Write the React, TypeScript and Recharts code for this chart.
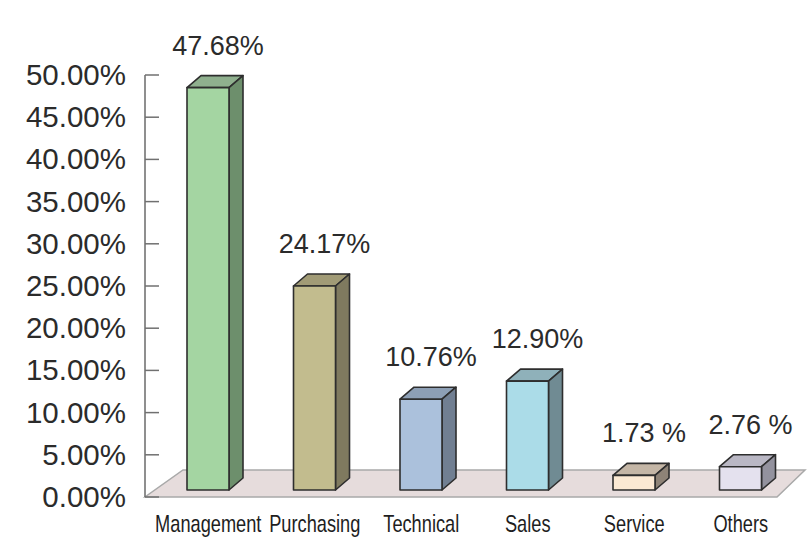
import React from 'react';
import { BarChart, Bar, XAxis, YAxis, ReferenceLine, LabelList, Cell } from 'recharts';

const categories = ['Management', 'Purchasing', 'Technical', 'Sales', 'Service', 'Others'];
const shares = [47.68, 24.17, 10.76, 12.9, 1.73, 2.76];
const shareLabels = ['47.68%', '24.17%', '10.76%', '12.90%', '1.73 %', '2.76 %'];
const yTicks = [0, 5, 10, 15, 20, 25, 30, 35, 40, 45, 50];

// front / side / top colour for each bar
const fronts = ['#a4d5a2', '#c2bc8e', '#abc1dc', '#abdce8', '#fbe9d3', '#e4e1ee'];
const sides = ['#6d8f6c', '#7f7a5f', '#717f92', '#708b93', '#8e8377', '#93929e'];
const tops = ['#8fb08e', '#a19b76', '#8d9fb5', '#8fb1ba', '#c4b6a6', '#b9b7c4'];

const data = categories.map((name, i) => ({ name, value: shares[i], label: shareLabels[i] }));

const DX = 14; // depth offset of the 3d box
const DY = 12;
const LIFT = 7; // bars stand a little back on the floor

const Box3D = (props: any) => {
  const { x, y, width, height, index } = props;
  const fx = x;
  const fy = y - LIFT;
  const stroke = '#2e2e2e';
  return (
    <g strokeWidth={1.6} stroke={stroke} strokeLinejoin="round">
      <polygon
        points={`${fx},${fy} ${fx + DX},${fy - DY} ${fx + width + DX},${fy - DY} ${fx + width},${fy}`}
        fill={tops[index]}
      />
      <polygon
        points={`${fx + width},${fy} ${fx + width + DX},${fy - DY} ${fx + width + DX},${fy + height - DY} ${fx + width},${fy + height}`}
        fill={sides[index]}
      />
      <rect x={fx} y={fy} width={width} height={height} fill={fronts[index]} />
    </g>
  );
};

const Floor = (props: any) => {
  const { x1, y1, x2 } = props;
  if (x1 == null) return null;
  const pts = `${x1},${y1} ${x2 - 28},${y1} ${x2},${y1 - 27} ${x1 + 38},${y1 - 27}`;
  return <polygon points={pts} fill="#e6dcdc" stroke="#a9a9a9" strokeWidth={1.5} />;
};

const YTick = (props: any) => {
  const { x, y, payload } = props;
  return (
    <g>
      <line x1={x} y1={y} x2={x + 14} y2={y} stroke="#707070" strokeWidth={1.5} />
      <text x={x - 19} y={y} dy={10} textAnchor="end" fontSize={29.5} fill="#2b2b2b"
        fontFamily="'Liberation Sans', Arial, sans-serif">
        {`${payload.value.toFixed(2)}%`}
      </text>
    </g>
  );
};

const XTick = (props: any) => {
  const { x, y, payload } = props;
  return (
    <g transform={`translate(${x},${y + 27}) scale(0.76,1)`}>
      <text x={0} y={0} textAnchor="middle" fontSize={24} fill="#1e1e1e"
        fontFamily="'Liberation Sans', Arial, sans-serif">
        {payload.value}
      </text>
    </g>
  );
};

const ValueLabel = (props: any) => {
  const { x, y, width, value } = props;
  return (
    <text x={x + width / 2 + 10} y={y - LIFT - 33} textAnchor="middle" fontSize={27} fill="#2b2b2b"
      fontFamily="'Liberation Sans', Arial, sans-serif">
      {value}
    </text>
  );
};

export default function App() {
  return (
    <div style={{ position: 'absolute', left: 0, top: 0, width: 809, height: 540, background: '#fff' }}>
      <BarChart width={809} height={540} data={data} margin={{ top: 75, right: 4, bottom: 0, left: 0 }}>
        <ReferenceLine y={0} shape={<Floor />} ifOverflow="visible" zIndex={50} />
        <XAxis
          dataKey="name"
          axisLine={false}
          tickLine={false}
          tick={<XTick />}
          height={43}
          padding={{ left: 10, right: 11 }}
          interval={0}
        />
        <YAxis
          domain={[0, 50]}
          ticks={yTicks}
          width={145}
          axisLine={{ stroke: '#6a6a6a', strokeWidth: 1.5 }}
          tickLine={false}
          tickSize={0}
          tickMargin={0}
          tick={<YTick />}
          interval={0}
        />
        <Bar dataKey="value" barSize={42} shape={<Box3D />} isAnimationActive={false}>
          {data.map((d, i) => (
            <Cell key={d.name} fill={fronts[i]} />
          ))}
          <LabelList dataKey="label" content={<ValueLabel />} />
        </Bar>
      </BarChart>
    </div>
  );
}
